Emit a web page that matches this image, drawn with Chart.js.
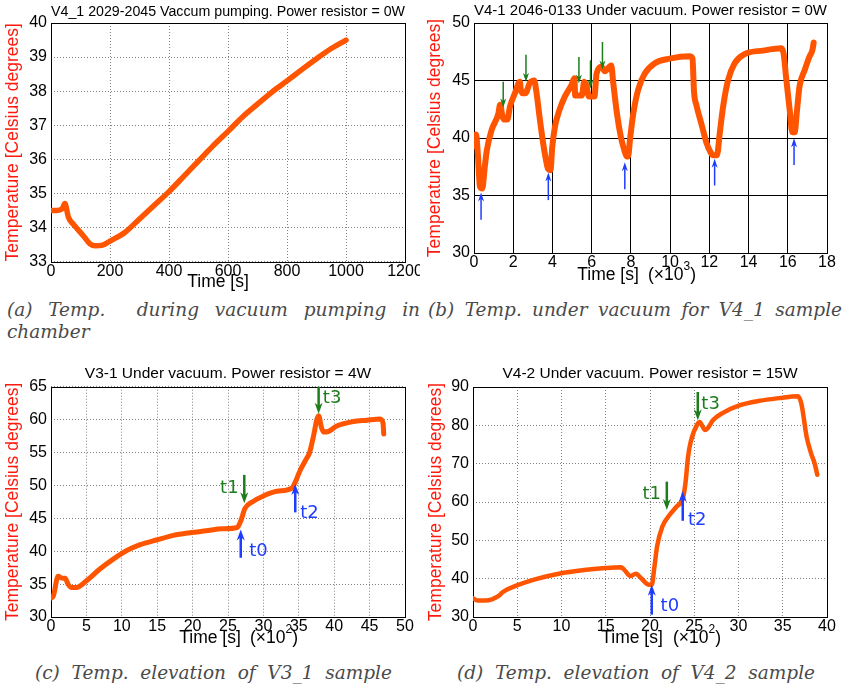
<!DOCTYPE html>
<html>
<head>
<meta charset="utf-8">
<script src="https://cdn.jsdelivr.net/npm/chart.js@4.4.1/dist/chart.umd.min.js"></script>
<style>
  body { margin: 0; background: #fff; width: 843px; height: 691px; overflow: hidden; position: relative; }
  canvas { position: absolute; }
  .cap { position: absolute; font: italic 18.5px "DejaVu Serif", serif; color: #4a4a4a; line-height: 22px; white-space: nowrap; }
  .just { text-align: justify; text-align-last: justify; white-space: normal; }
</style>
</head>
<body>
<canvas id="pa" width="420" height="295" style="left:0;top:0"></canvas>
<canvas id="pb" width="423" height="295" style="left:420px;top:0"></canvas>
<canvas id="pc" width="420" height="295" style="left:0;top:360px"></canvas>
<canvas id="pd" width="423" height="295" style="left:420px;top:360px"></canvas>

<div class="cap just" style="left:7px;top:299px;width:413px">(a) Temp. &nbsp;during vacuum pumping in</div>
<div class="cap" style="left:7px;top:321px">chamber</div>
<div class="cap just" style="left:428px;top:299px;width:414px">(b) Temp. under vacuum for V4_1 sample</div>
<div class="cap just" style="left:35px;top:662px;width:357px">(c) Temp. elevation of V3_1 sample</div>
<div class="cap just" style="left:457px;top:662px;width:358px">(d) Temp. elevation of V4_2 sample</div>

<script>
// ---- (a) V4_1, vacuum pumping, time in s ----
const timeA = [0, 20, 38, 47, 59, 75, 90, 110, 132, 150, 175, 200, 250, 300, 350, 400, 450, 500, 550, 600, 650, 700, 750, 800, 850, 900, 950, 1000];
const tempA = [34.5, 34.5, 34.55, 34.7, 34.3, 34.1, 33.95, 33.75, 33.52, 33.46, 33.48, 33.6, 33.85, 34.25, 34.65, 35.05, 35.5, 35.95, 36.4, 36.82, 37.25, 37.62, 37.98, 38.3, 38.63, 38.95, 39.25, 39.5];

// ---- (b) V4-1 under vacuum, time in 10^3 s ----
const timeB = [0, 0.1, 0.2, 0.3, 0.42, 0.55, 0.65, 0.9, 1.24, 1.33, 1.45, 1.52, 1.7, 1.83, 2.09, 2.34, 2.38, 2.45, 2.62, 2.85, 3.07, 3.19, 3.36, 3.53, 3.67, 3.78, 3.9, 3.99, 4.13, 4.35, 4.63, 4.97, 5.12, 5.16, 5.5, 5.62, 5.74, 5.86, 6.14, 6.25, 6.5, 6.67, 7.0, 7.1, 7.3, 7.5, 7.69, 7.78, 7.86, 7.95, 8.12, 8.37, 8.71, 9.22, 9.98, 11.0, 11.14, 11.22, 11.35, 11.6, 11.85, 12.05, 12.19, 12.39, 12.53, 12.7, 12.95, 13.29, 13.8, 14.74, 15.67, 15.79, 15.93, 16.1, 16.23, 16.35, 16.47, 16.6, 16.86, 17.11, 17.25, 17.32];
const tempB = [39.3, 40.3, 38.5, 35.8, 35.6, 37.5, 38.9, 40.7, 42.1, 42.9, 41.9, 41.6, 41.6, 42.7, 43.9, 44.9, 44.3, 43.9, 43.9, 44.8, 45.0, 43.9, 41.6, 39.5, 38.1, 37.3, 37.2, 39.2, 41.0, 42.4, 43.6, 44.6, 45.2, 43.7, 43.7, 44.9, 44.5, 43.6, 43.6, 45.6, 46.2, 45.8, 46.3, 44.8, 42.0, 40.0, 38.8, 38.4, 38.4, 39.8, 42.1, 44.2, 45.6, 46.5, 46.9, 47.1, 46.9, 44.0, 42.8, 41.2, 39.6, 38.8, 38.5, 38.5, 40.4, 42.7, 45.0, 46.5, 47.3, 47.6, 47.8, 47.3, 45.0, 42.4, 40.5, 40.5, 42.4, 44.5, 45.9, 47.1, 47.6, 48.3];

// ---- (c) V3-1, 4 W, time in 10^2 s ----
const timeC = [0, 0.3, 1.0, 1.6, 2.0, 2.4, 2.9, 3.6, 5.0, 6.9, 8.8, 10.7, 12.6, 14.9, 17.3, 19.6, 21.9, 24.2, 26.3, 26.8, 27.4, 28.6, 30.0, 31.9, 34.0, 34.5, 35.2, 36.1, 36.5, 37.0, 37.8, 38.2, 38.5, 39.2, 40.3, 42.7, 44.6, 46.5, 46.9, 47.0];
const tempC = [32.9, 33.1, 36.2, 35.9, 35.9, 35.0, 34.5, 34.5, 35.5, 37.3, 38.8, 40.1, 41.0, 41.7, 42.4, 42.8, 43.1, 43.4, 43.6, 44.6, 46.5, 47.6, 48.4, 49.1, 49.6, 50.5, 52.3, 54.1, 54.9, 57.1, 60.6, 58.8, 58.1, 58.2, 59.0, 59.7, 59.9, 60.1, 59.4, 57.8];

// ---- (d) V4-2, 15 W, time in 10^2 s ----
const timeD = [0, 0.5, 1.4, 2.9, 3.3, 4.8, 7.1, 9.7, 12.8, 15.0, 16.7, 17.1, 17.8, 18.4, 19.0, 19.9, 20.2, 20.5, 20.8, 21.4, 22.2, 23.0, 23.7, 24.0, 24.3, 24.6, 25.4, 25.6, 26.2, 26.5, 27.1, 28.2, 30.1, 32.4, 34.6, 36.7, 37.1, 37.7, 38.2, 38.6, 38.9];
const tempD = [34.9, 34.3, 34.3, 35.5, 36.4, 38.1, 39.9, 41.3, 42.3, 42.8, 43.0, 42.3, 40.7, 41.3, 40.1, 38.4, 38.4, 43.1, 48.4, 53.6, 56.6, 58.8, 60.9, 64.8, 71.8, 75.7, 80.5, 80.9, 78.8, 79.2, 81.3, 83.2, 85.2, 86.4, 87.1, 87.6, 85.7, 77.0, 72.7, 70.1, 67.1];

// ---- event arrows: x, tail, tip (data units) and colour key ----
const arrowsB = {
  x:    [0.36, 3.79, 7.69, 12.27, 16.32, 1.49, 2.65, 5.35, 5.94, 6.55],
  from: [32.9, 34.6, 35.55, 35.87, 37.66, 44.9, 47.25, 47.05, 46.76, 48.35],
  to:   [35.26, 37.0, 37.9, 38.2, 39.97, 42.66, 44.88, 44.74, 44.3, 45.95],
  kind: ['b', 'b', 'b', 'b', 'b', 'g', 'g', 'g', 'g', 'g'],
  label: []
};
const arrowsC = {
  x:    [26.8, 27.3, 34.5, 37.8],
  from: [39.0, 51.6, 45.9, 65.0],
  to:   [43.3, 47.3, 50.2, 60.9],
  kind: ['b', 'g', 'b', 'g'],
  label: ['t0', 't1', 't2', 't3'],
  lx:   [28.0, 26.5, 35.2, 38.4],
  ly:   [40.0, 49.6, 45.8, 63.2],
  la:   ['left', 'right', 'left', 'left']
};
const arrowsD = {
  x:    [20.2, 21.9, 23.7, 25.4],
  from: [30.6, 65.3, 55.1, 88.7],
  to:   [38.4, 57.9, 62.9, 81.3],
  kind: ['b', 'g', 'b', 'g'],
  label: ['t0', 't1', 't2', 't3'],
  lx:   [21.2, 21.25, 24.3, 25.8],
  ly:   [32.8, 62.1, 55.3, 85.4],
  la:   ['left', 'right', 'left', 'left']
};

const SANS = '"Liberation Sans", Arial, Helvetica, sans-serif';
const ORANGE = '#ff5500';
const RED = '#ff1a0d';
const BLUE = '#1f3dff';
const GREEN = '#1d7d1d';

// Frame around the plot area (drawn before the curve so the curve sits on top)
const framePlugin = {
  id: 'frame',
  beforeDatasetsDraw(chart) {
    const { ctx, chartArea: a } = chart;
    ctx.save();
    ctx.strokeStyle = '#000';
    ctx.lineWidth = 1;
    ctx.strokeRect(Math.round(a.left) + 0.5, Math.round(a.top) + 0.5, Math.round(a.right - a.left), Math.round(a.bottom - a.top));
    ctx.restore();
  }
};

// Arrows, their labels and the x-axis caption with its scale factor
const notesPlugin = {
  id: 'notes',
  afterDatasetsDraw(chart, args, o) {
    const { ctx, scales: { x, y } } = chart;
    ctx.save();
    const ar = o.arrows;
    if (ar) {
      for (let i = 0; i < ar.x.length; i++) {
        const px = x.getPixelForValue(ar.x[i]);
        const y0 = y.getPixelForValue(ar.from[i]);
        const y1 = y.getPixelForValue(ar.to[i]);
        const col = ar.kind[i] === 'b' ? BLUE : GREEN;
        const dir = Math.sign(y1 - y0);
        ctx.strokeStyle = col;
        ctx.fillStyle = col;
        ctx.lineWidth = o.shaft;
        ctx.beginPath();
        ctx.moveTo(px, y0);
        ctx.lineTo(px, y1 - dir * o.headLen * 0.6);
        ctx.stroke();
        ctx.beginPath();
        ctx.moveTo(px, y1);
        ctx.lineTo(px - o.headW / 2, y1 - dir * o.headLen);
        ctx.lineTo(px, y1 - dir * o.headLen * 0.7);
        ctx.lineTo(px + o.headW / 2, y1 - dir * o.headLen);
        ctx.closePath();
        ctx.fill();
        if (ar.label[i]) {
          ctx.font = '18px "DejaVu Sans", sans-serif';
          ctx.textAlign = ar.la[i];
          ctx.textBaseline = 'middle';
          ctx.fillText(ar.label[i], x.getPixelForValue(ar.lx[i]), y.getPixelForValue(ar.ly[i]));
        }
      }
    }
    ctx.restore();
  },
  afterDraw(chart, args, o) {
    const { ctx } = chart;
    ctx.save();
    ctx.fillStyle = '#000';
    ctx.textBaseline = 'middle';
    ctx.font = '17.5px ' + SANS;
    ctx.textAlign = 'center';
    ctx.fillText('Time [s]', o.tx, o.ty);
    if (o.exp) {
      ctx.textAlign = 'left';
      ctx.fillText('(\u00d710', o.ex, o.ty);
      const w = ctx.measureText('(\u00d710').width;
      ctx.font = '12px ' + SANS;
      ctx.fillText(o.exp, o.ex + w, o.ty - 8);
      const w2 = ctx.measureText(o.exp).width;
      ctx.font = '17.5px ' + SANS;
      ctx.fillText(')', o.ex + w + w2, o.ty);
    }
    ctx.restore();
  }
};

function panel(id, p) {
  const cv = document.getElementById(id);
  const W = cv.width, H = cv.height;
  const a = p.area;
  const titleLH = 15.5 * 1.2;
  const titlePadTop = p.titleY - titleLH / 2;
  const gridColor = p.solidGrid ? '#000' : '#808080';
  const dash = p.solidGrid ? [] : [1, 2];
  const axis = (min, max, step) => ({
    type: 'linear', min, max,
    ticks: { stepSize: step, color: '#000', font: { family: SANS, size: 16 }, maxRotation: 0, autoSkip: false,
             callback: v => String(v) },
    grid: { color: gridColor, lineWidth: 1, drawTicks: false },
    border: { display: false, dash }
  });
  const xs = axis(p.x[0], p.x[1], p.x[2]);
  xs.ticks.padding = 0;
  xs.afterFit = s => { s.height = p.xh; s.paddingLeft = 0; s.paddingRight = 0; };
  const ys = axis(p.y[0], p.y[1], p.y[2]);
  ys.ticks.padding = 4;
  ys.title = { display: true, text: 'Temperature [Celsius degrees]', color: RED, font: { family: SANS, size: 17.5 }, padding: { top: p.yTitleX - 10.5, bottom: 0 } };
  ys.afterFit = s => { s.width = a.l; s.paddingTop = 0; s.paddingBottom = 0; };

  return new Chart(cv, {
    type: 'line',
    data: {
      datasets: [{
        data: p.t.map((t, i) => ({ x: t, y: p.v[i] })),
        borderColor: ORANGE, borderWidth: p.lw, pointRadius: 0,
        cubicInterpolationMode: 'monotone',
        borderJoinStyle: 'round', borderCapStyle: 'round'
      }]
    },
    options: {
      responsive: false, animation: false, events: [],
      layout: { padding: { left: 0, right: W - a.r, top: 0, bottom: H - a.b - p.xh } },
      scales: { x: xs, y: ys },
      plugins: {
        legend: { display: false },
        tooltip: { enabled: false },
        title: {
          display: true, text: p.title, fullSize: false, color: '#000',
          font: { family: SANS, size: 15.5, weight: 'normal' },
          padding: { top: titlePadTop, bottom: a.t - titlePadTop - titleLH }
        },
        notes: p.notes
      }
    },
    plugins: [framePlugin, notesPlugin]
  });
}

panel('pa', {
  t: timeA, v: tempA, lw: 5.5,
  title: 'V4_1 2029-2045 Vaccum pumping. Power resistor = 0W', titleY: 11.5,
  area: { l: 51, r: 405, t: 23, b: 261.5 }, xh: 30, yTitleX: 13.3,
  x: [0, 1200, 200], y: [33, 40, 1],
  notes: { tx: 218, ty: 282 }
});
panel('pb', {
  t: timeB, v: tempB, lw: 6, solidGrid: true,
  title: 'V4-1 2046-0133 Under vacuum. Power resistor = 0W', titleY: 11,
  area: { l: 54, r: 407, t: 23, b: 253 }, xh: 30, yTitleX: 15,
  x: [0, 18, 2], y: [30, 50, 5],
  notes: { tx: 188, ty: 275, ex: 228, exp: '3', arrows: arrowsB, shaft: 1.5, headW: 6, headLen: 9 }
});
panel('pc', {
  t: timeC, v: tempC, lw: 5,
  title: 'V3-1 Under vacuum. Power resistor = 4W', titleY: 14,
  area: { l: 51, r: 405, t: 26.7, b: 257 }, xh: 30, yTitleX: 13.3,
  x: [0, 50, 5], y: [30, 65, 5],
  notes: { tx: 210, ty: 278, ex: 250, exp: '2', arrows: arrowsC, shaft: 2.5, headW: 8, headLen: 11 }
});
panel('pd', {
  t: timeD, v: tempD, lw: 4.5,
  title: 'V4-2 Under vacuum. Power resistor = 15W', titleY: 14,
  area: { l: 53, r: 407, t: 27, b: 257 }, xh: 30, yTitleX: 16,
  x: [0, 40, 5], y: [30, 90, 10],
  notes: { tx: 212, ty: 278, ex: 253, exp: '2', arrows: arrowsD, shaft: 2.5, headW: 8, headLen: 11 }
});
</script>
</body>
</html>
